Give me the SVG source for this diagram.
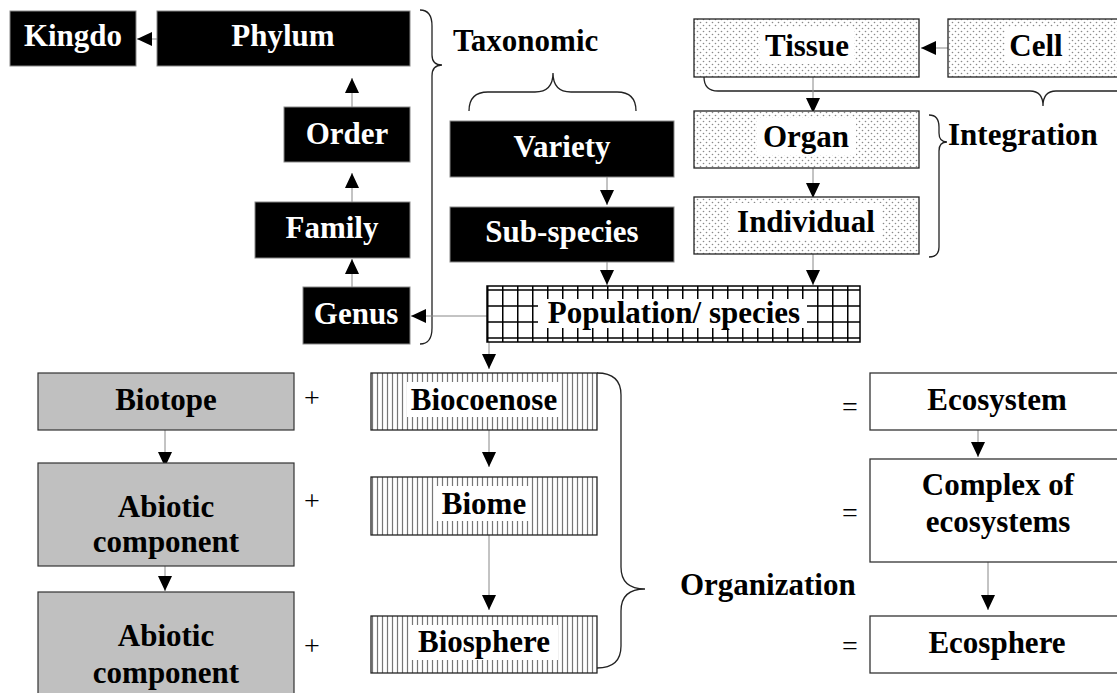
<svg xmlns="http://www.w3.org/2000/svg" width="1117" height="693" viewBox="0 0 1117 693">
<style>
.t{font-family:"Liberation Serif","Times New Roman",serif;font-weight:bold;font-size:31px;text-anchor:middle}
.ts{font-family:"Liberation Serif","Times New Roman",serif;font-weight:bold;font-size:31px}
.op{font-family:"Liberation Serif","Times New Roman",serif;font-size:28px;text-anchor:middle;fill:#000}
.w{fill:#fff}
.k{fill:#000}
.blk{fill:#000;stroke:#888;stroke-width:1}
.dot{fill:url(#dots);stroke:#222;stroke-width:1.3}
.vl{fill:url(#vlines);stroke:#222;stroke-width:1.3}
.gry{fill:#c0c0c0;stroke:#333;stroke-width:1.2}
.wb{fill:#fff;stroke:#333;stroke-width:1.3}
.pt{fill:#fff;stroke:none}
#connectors line{stroke:#888;stroke-width:1;marker-end:url(#ah)}
.brace{fill:none;stroke:#222;stroke-width:1.3}
</style>
<defs>
<marker id="ah" markerUnits="userSpaceOnUse" markerWidth="15" markerHeight="15" viewBox="0 0 15 14" refX="15" refY="7" orient="auto"><path d="M0,0 L15,7 L0,14 z" fill="#000"/></marker>
<pattern id="dots" patternUnits="userSpaceOnUse" width="6" height="6"><rect width="6" height="6" fill="#fff"/><circle cx="1.5" cy="1.5" r="0.8" fill="#8a8a8a"/><circle cx="4.5" cy="4.5" r="0.8" fill="#8a8a8a"/></pattern>
<pattern id="vlines" patternUnits="userSpaceOnUse" width="5" height="10"><rect width="5" height="10" fill="#fff"/><line x1="2.5" y1="0" x2="2.5" y2="10" stroke="#777" stroke-width="1.2"/></pattern>
<pattern id="grid" patternUnits="userSpaceOnUse" x="487" y="286" width="15" height="16"><rect width="15" height="16" fill="#fff"/><path d="M0.75,0 V16 M0,4 H15" stroke="#000" stroke-width="1.5" fill="none"/></pattern>
</defs>
<rect width="1117" height="693" fill="#fff"/>

<g id="braces">
<path class="brace" d="M420,10 Q432,10 432,26 L432,55 Q432,65 442,65 Q432,65 432,76 L432,328 Q432,344 420,344"/>
<path class="brace" d="M469,111 Q469,92 488,92 L535,92 Q553,92 553,73 Q553,92 571,92 L617,92 Q636,92 636,111"/>
<path class="brace" d="M704,77 Q704,91 718,91 L1030,91 Q1043,91 1043,106 Q1043,91 1056,91 L1130,91"/>
<path class="brace" d="M929,115 Q939,115 939,127 L939,133 Q939,142 947,142 Q939,142 939,151 L939,247 Q939,257 929,257"/>
<path class="brace" d="M597,373 Q621,373 621,395 L621,567 Q621,589 645,589 Q621,589 621,611 L621,646 Q621,668 597,668"/>
</g>

<g id="connectors">
<line x1="157" y1="39" x2="137" y2="39"/>
<line x1="352" y1="107" x2="352" y2="78"/>
<line x1="352" y1="202" x2="352" y2="173"/>
<line x1="352" y1="287" x2="352" y2="259"/>
<line x1="487" y1="316" x2="411" y2="316"/>
<line x1="948" y1="48" x2="921" y2="48"/>
<line x1="813" y1="77" x2="813" y2="113"/>
<line x1="813" y1="168" x2="813" y2="198"/>
<line x1="813" y1="254" x2="813" y2="285"/>
<line x1="607" y1="177" x2="607" y2="205"/>
<line x1="607" y1="262" x2="607" y2="285"/>
<line x1="489" y1="342" x2="489" y2="369"/>
<line x1="165" y1="430" x2="165" y2="467"/>
<line x1="165" y1="566" x2="165" y2="591"/>
<line x1="489" y1="430" x2="489" y2="467"/>
<line x1="489" y1="535" x2="489" y2="610"/>
<line x1="978" y1="430" x2="978" y2="457"/>
<line x1="988" y1="562" x2="988" y2="610"/>
</g>

<g id="kingdom"><rect class="blk" x="10" y="11" width="126" height="55"/><text class="t w" x="73" y="46">Kingdo</text></g>
<g id="phylum"><rect class="blk" x="157" y="11" width="253" height="55"/><text class="t w" x="283" y="46">Phylum</text></g>
<g id="order"><rect class="blk" x="284" y="107" width="126" height="55"/><text class="t w" x="347" y="144">Order</text></g>
<g id="family"><rect class="blk" x="255" y="202" width="155" height="56"/><text class="t w" x="332" y="238">Family</text></g>
<g id="genus"><rect class="blk" x="303" y="287" width="107" height="57"/><text class="t w" x="356" y="324">Genus</text></g>
<g id="taxonomic"><text class="ts k" x="453" y="51">Taxonomic</text></g>
<g id="variety"><rect class="blk" x="450" y="121" width="224" height="56"/><text class="t w" x="562" y="157">Variety</text></g>
<g id="subspecies"><rect class="blk" x="450" y="207" width="224" height="55"/><text class="t w" x="562" y="242">Sub-species</text></g>

<g id="tissue"><rect class="dot" x="694" y="19" width="225" height="58"/><rect class="pt" x="760" y="27" width="94" height="37"/><text class="t k" x="807" y="56">Tissue</text></g>
<g id="cell"><rect class="dot" x="948" y="19" width="176" height="58"/><rect class="pt" x="1005" y="27" width="63" height="37"/><text class="t k" x="1036" y="56">Cell</text></g>
<g id="organ"><rect class="dot" x="694" y="111" width="225" height="57"/><rect class="pt" x="757" y="118" width="99" height="37"/><text class="t k" x="806" y="147">Organ</text></g>
<g id="individual"><rect class="dot" x="694" y="197" width="225" height="57"/><rect class="pt" x="730" y="203" width="152" height="37"/><text class="t k" x="806" y="232">Individual</text></g>
<g id="integration"><text class="ts k" x="948" y="145">Integration</text></g>

<g id="population"><rect x="487" y="286" width="373" height="56" fill="url(#grid)" stroke="#000" stroke-width="1.5"/><rect class="pt" x="538" y="299" width="269" height="29"/><text class="t k" x="674" y="323">Population/ species</text></g>

<g id="biotope"><rect class="gry" x="38" y="373" width="256" height="57"/><text class="t k" x="166" y="410">Biotope</text></g>
<g id="abiotic1"><rect class="gry" x="38" y="463" width="256" height="103"/><text class="t k" x="166" y="517">Abiotic</text><text class="t k" x="166" y="552">component</text></g>
<g id="abiotic2"><rect class="gry" x="38" y="592" width="256" height="110"/><text class="t k" x="166" y="646">Abiotic</text><text class="t k" x="166" y="683">component</text></g>

<g id="plus"><text class="op" x="312" y="407">+</text><text class="op" x="312" y="510">+</text><text class="op" x="312" y="655">+</text></g>

<g id="biocoenose"><rect class="vl" x="371" y="373" width="226" height="57"/><rect class="pt" x="407" y="382" width="153" height="35"/><text class="t k" x="484" y="410">Biocoenose</text></g>
<g id="biome"><rect class="vl" x="371" y="477" width="226" height="58"/><rect class="pt" x="435" y="486" width="96" height="35"/><text class="t k" x="484" y="514">Biome</text></g>
<g id="biosphere"><rect class="vl" x="371" y="616" width="226" height="57"/><rect class="pt" x="410" y="625" width="148" height="35"/><text class="t k" x="484" y="652">Biosphere</text></g>

<g id="organization"><text class="ts k" x="680" y="595">Organization</text></g>

<g id="equals"><text class="op" x="850" y="416">=</text><text class="op" x="850" y="522">=</text><text class="op" x="850" y="655">=</text></g>

<g id="ecosystem"><rect class="wb" x="870" y="373" width="254" height="57"/><text class="t k" x="997" y="410">Ecosystem</text></g>
<g id="complex"><rect class="wb" x="870" y="459" width="254" height="103"/><text class="t k" x="998" y="495">Complex of</text><text class="t k" x="998" y="532">ecosystems</text></g>
<g id="ecosphere"><rect class="wb" x="870" y="616" width="254" height="57"/><text class="t k" x="997" y="653">Ecosphere</text></g>
</svg>
